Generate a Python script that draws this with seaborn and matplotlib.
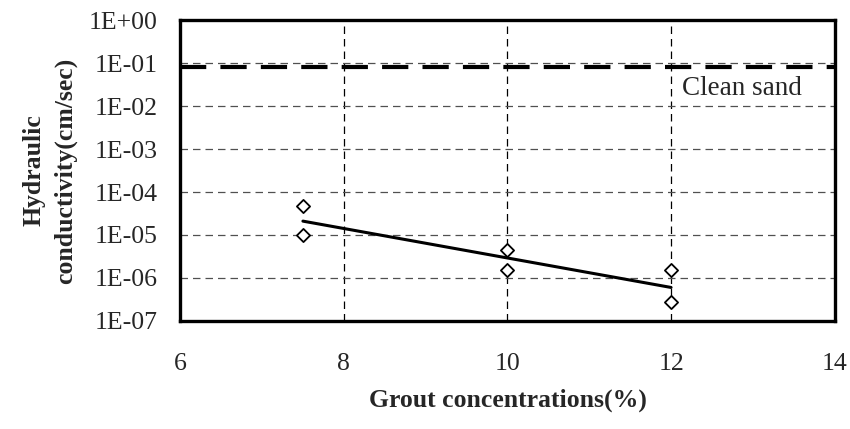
import pandas as pd
import matplotlib
matplotlib.use("Agg")
import matplotlib.pyplot as plt
import seaborn as sns

# measured points (grout concentration %, hydraulic conductivity cm/sec)
grout_conc = [7.5, 7.5, 10, 10, 12, 12]
hyd_cond = [4.8e-5, 1.0e-5, 4.5e-6, 1.5e-6, 1.5e-6, 2.7e-7]

# exponential trend line
trend_conc = [7.5, 12]
trend_cond = [2.1e-5, 6.0e-7]

# clean sand reference
clean_sand_k = 0.08
clean_sand_label = "Clean sand"

x_ticks = [6, 8, 10, 12, 14]
y_ticks = [1e-7, 1e-6, 1e-5, 1e-4, 1e-3, 1e-2, 1e-1, 1e0]
y_tick_labels = ["1E-07", "1E-06", "1E-05", "1E-04", "1E-03", "1E-02", "1E-01", "1E+00"]


def main():
    sns.set_style("white")
    plt.rcParams["font.family"] = ["Liberation Serif", "DejaVu Serif"]

    df = pd.DataFrame({"conc": grout_conc, "k": hyd_cond})
    df_trend = pd.DataFrame({"conc": trend_conc, "k": trend_cond})

    fig = plt.figure(figsize=(8.5, 4.29), dpi=100)
    ax = fig.add_axes([0.212, 0.252, 0.770, 0.701])
    ax.set_yscale("log")

    ax.axhline(clean_sand_k, color="black", lw=3.0, dashes=(6.3, 3.4), zorder=3)
    sns.lineplot(data=df_trend, x="conc", y="k", ax=ax, color="black", lw=2.2, zorder=4)
    sns.scatterplot(data=df, x="conc", y="k", ax=ax, marker="D", s=45,
                    facecolor="white", edgecolor="black", linewidth=1.3, zorder=5)

    ax.text(12.13, 0.026, clean_sand_label, ha="left", va="center", fontsize=19.5)

    ax.set_xlim(6, 14)
    ax.set_ylim(1e-7, 1e0)
    ax.set_xticks(x_ticks)
    ax.set_xticklabels([str(t) for t in x_ticks])
    ax.set_yticks(y_ticks)
    ax.set_yticklabels(y_tick_labels)
    ax.minorticks_off()
    ax.tick_params(axis="both", length=0, labelsize=18.5)
    ax.tick_params(axis="x", pad=23)
    ax.tick_params(axis="y", pad=16)

    ax.grid(True, axis="x", color="black", lw=0.9, linestyle=(0, (6, 4)))
    ax.grid(True, axis="y", color="#505050", lw=0.9, linestyle=(0, (6, 4)))
    for sp in ax.spines.values():
        sp.set_color("black")
        sp.set_linewidth(2.4)

    ax.set_xlabel("Grout concentrations(%)", fontsize=18.5, fontweight="bold", labelpad=10)
    ax.set_ylabel("Hydraulic\nconductivity(cm/sec)", fontsize=18.5, fontweight="bold",
                  linespacing=1.45)
    ax.yaxis.set_label_coords(-0.158, 0.5)

    fig.savefig("out.png", dpi=100)
    plt.close(fig)


if __name__ == "__main__":
    main()
